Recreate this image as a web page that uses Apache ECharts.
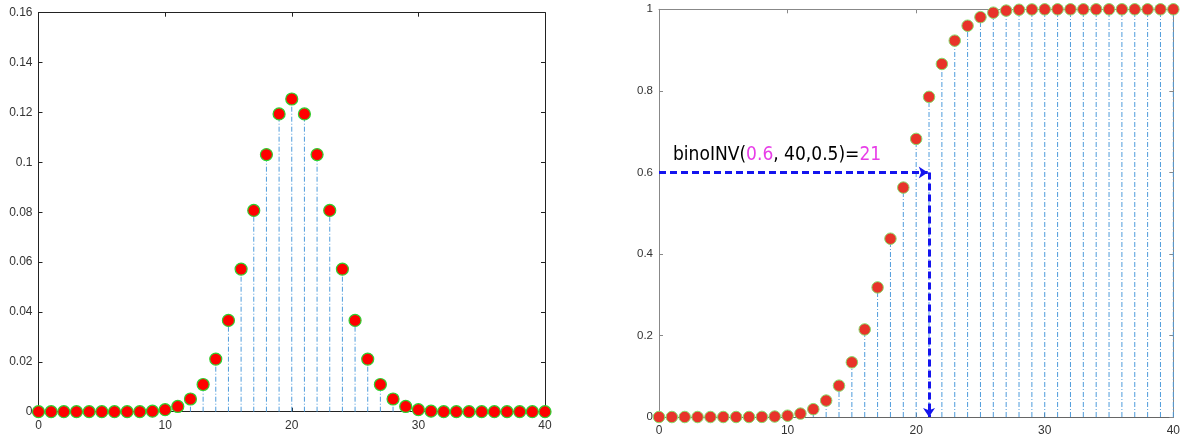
<!DOCTYPE html>
<html>
<head>
<meta charset="utf-8">
<script src="https://cdn.jsdelivr.net/npm/echarts@6/dist/echarts.min.js"></script>
<style>
  html, body { margin: 0; padding: 0; background: #fff; }
  #main { width: 1183px; height: 437px; }
</style>
</head>
<body>
<div id="main"></div>
<script>
// x values 0..40
var ks = [];
for (var i = 0; i <= 40; i++) ks.push(i);

// left panel: probability at each k
var pmfVals = [0, 0, 0, 0, 0, 0, 0, 0, 0, 0.0002,
  0.0008, 0.0021, 0.0051, 0.0109, 0.0211, 0.0366, 0.0572, 0.0807, 0.1031, 0.1194,
  0.1254, 0.1194, 0.1031, 0.0807, 0.0572, 0.0366, 0.0211, 0.0109, 0.0051, 0.0021,
  0.0008, 0.0002, 0, 0, 0, 0, 0, 0, 0, 0, 0];

// right panel: cumulative values
var cdfVals = [0, 0, 0, 0, 0, 0, 0, 0, 0.0003, 0.0011,
  0.0032, 0.0083, 0.0192, 0.0403, 0.0769, 0.1341, 0.2148, 0.3179, 0.4373, 0.5627,
  0.6821, 0.7852, 0.8659, 0.9231, 0.9597, 0.9808, 0.9917, 0.9968, 0.9989, 0.9997,
  0.9999, 1, 1, 1, 1, 1, 1, 1, 1, 1, 1];

var leftTicks = { min: 0, max: 0.16, interval: 0.02 };
var rightTicks = { min: 0, max: 1, interval: 0.2 };

var stemColor = '#4f9cdc';

function pairs (vals) {
  return ks.map(function (k, i) { return [k, vals[i]]; });
}

function stemSeries (xi, yi, vals) {
  return {
    type: 'custom',
    xAxisIndex: xi,
    yAxisIndex: yi,
    data: pairs(vals),
    z: 2,
    renderItem: function (params, api) {
      var p0 = api.coord([api.value(0), 0]);
      var p1 = api.coord([api.value(0), api.value(1)]);
      return {
        type: 'line',
        shape: { x1: p0[0], y1: p0[1], x2: p1[0], y2: p1[1] },
        style: { stroke: stemColor, lineWidth: 1, lineDash: [5, 2, 1, 2] }
      };
    }
  };
}

function xAx (grid, pos, color, labels, fs) {
  return {
    gridIndex: grid, type: 'value', position: pos,
    min: 0, max: 40, interval: 10,
    axisLine: { onZero: false, lineStyle: { color: color, width: 1 } },
    axisTick: { inside: true, length: 4, lineStyle: { color: color } },
    splitLine: { show: false },
    axisLabel: { show: labels, color: '#333', fontSize: fs, margin: 8, fontFamily: 'Liberation Sans' }
  };
}
function yAx (grid, pos, color, labels, t, fs) {
  return {
    gridIndex: grid, type: 'value', position: pos,
    min: t.min, max: t.max, interval: t.interval,
    axisLine: { onZero: false, lineStyle: { color: color, width: 1 } },
    axisTick: { inside: true, length: 4, lineStyle: { color: color } },
    splitLine: { show: false },
    axisLabel: { show: labels, color: '#333', fontSize: fs, margin: 6, fontFamily: 'Liberation Sans' }
  };
}

var chart = echarts.init(document.getElementById('main'));
var option = {
  animation: false,
  backgroundColor: '#fff',
  grid: [
    { left: 38.5, right: 638, top: 12.7, bottom: 25.3 },
    { left: 659, right: 5.7, top: 9.3, bottom: 19.7 }
  ],
  xAxis: [
    xAx(0, 'bottom', '#222', true, 12),
    xAx(0, 'top', '#222', false, 12),
    xAx(1, 'bottom', '#666', true, 12),
    xAx(1, 'top', '#888', false, 12)
  ],
  yAxis: [
    yAx(0, 'left', '#222', true, leftTicks, 12),
    yAx(0, 'right', '#222', false, leftTicks, 12),
    yAx(1, 'left', '#888', true, rightTicks, 11.5),
    yAx(1, 'right', '#888', false, rightTicks, 11.5)
  ],
  series: [
    stemSeries(0, 0, pmfVals),
    {
      type: 'scatter', xAxisIndex: 0, yAxisIndex: 0,
      data: pairs(pmfVals), symbolSize: 12, clip: false, z: 3,
      itemStyle: { color: '#ff0000', borderColor: '#2fd02f', borderWidth: 1.2, opacity: 1 }
    },
    stemSeries(2, 2, cdfVals),
    {
      type: 'scatter', xAxisIndex: 2, yAxisIndex: 2,
      data: pairs(cdfVals), symbolSize: 11.5, clip: false, z: 3,
      itemStyle: { color: '#e8332a', borderColor: '#86dc6a', borderWidth: 1, opacity: 1 },
      markLine: {
        silent: true,
        symbol: ['none', 'arrow'],
        symbolSize: 9,
        label: { show: false },
        lineStyle: { color: '#1414ee', width: 3, type: [7, 4] },
        data: [
          [{ coord: [0, 0.6] }, { coord: [20.9, 0.6] }],
          [{ coord: [21, 0.6] }, { coord: [21, 0] }]
        ]
      }
    }
  ],
  graphic: [
    {
      type: 'text', left: 673, top: 146, z: 10,
      style: {
        text: '{k|binoINV(}{m|0.6}{k|, 40,0.5)=}{m|21}',
        rich: {
          k: { fill: '#000', fontSize: 19, fontFamily: 'DejaVu Sans Condensed' },
          m: { fill: '#e83ee8', fontSize: 19, fontFamily: 'DejaVu Sans Condensed' }
        }
      }
    }
  ]
};
chart.setOption(option);
</script>
</body>
</html>
